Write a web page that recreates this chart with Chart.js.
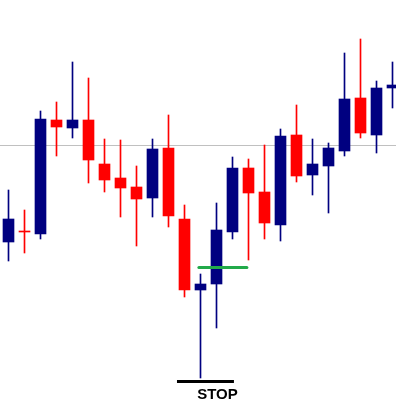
<!DOCTYPE html>
<html>
<head>
<meta charset="utf-8">
<script src="https://cdn.jsdelivr.net/npm/chart.js@4/dist/chart.umd.min.js"></script>
<style>
  html, body { margin: 0; padding: 0; background: #fff; }
  #chartContainer { width: 396px; height: 417px; position: relative; }
</style>
</head>
<body>
<div id="chartContainer"><canvas id="candleChart"></canvas></div>
<script>
// <![CDATA[

// candles, one per bar, oldest first (price in pips)
var opens  = [175, 186, 183, 297, 289, 297, 253, 239, 230, 219, 269, 198, 127, 133, 185, 249, 225, 192, 282, 242, 251, 266, 319, 282, 329];
var highs  = [227, 207, 306, 315, 355, 339, 278, 277, 251, 278, 302, 212, 143, 214, 260, 258, 272, 288, 312, 278, 274, 364, 378, 336, 355];
var lows   = [156, 164, 178, 261, 279, 234, 225, 200, 171, 200, 190, 120,  39,  89, 178, 157, 178, 176, 235, 222, 204, 261, 279, 264, 309];
var closes = [198, 185, 298, 290, 297, 257, 237, 229, 218, 268, 201, 127, 133, 187, 249, 224, 194, 281, 241, 253, 269, 318, 284, 329, 332];

// annotation levels
var resistanceLevel = 271.5;
var entryLevel = 149.5;
var entryFrom = 11.9, entryTo = 14.9;
var stopLevel = 35.5;
var stopFrom = 10.53, stopTo = 14.09;
var stopLabel = "STOP";

var upColor = "#000080";
var downColor = "#ff0000";

var candleColors = opens.map((o, i) => closes[i] >= o ? upColor : downColor);
var wickData = lows.map((l, i) => ({ x: i, y: [l, highs[i]] }));
var bodyData = opens.map((o, i) => ({ x: i, y: [o, closes[i]] }));

var stopTextPlugin = {
  id: 'stopText',
  afterDatasetsDraw: (chart) => {
    var ctx = chart.ctx;
    var xs = chart.scales.x, ys = chart.scales.y;
    var px = (xs.getPixelForValue(stopFrom) + xs.getPixelForValue(stopTo)) / 2 + 12;
    var py = ys.getPixelForValue(stopLevel) + 17;
    ctx.save();
    ctx.fillStyle = "#000";
    ctx.font = "bold 15px 'Liberation Sans', Arial, sans-serif";
    ctx.textAlign = "center";
    ctx.textBaseline = "alphabetic";
    ctx.fillText(stopLabel, px, py);
    ctx.restore();
  }
};

var candleConfig = {
  type: 'bar',
  data: {
    datasets: [
      {
        type: 'line',
        order: 3,
        data: [{ x: -2, y: resistanceLevel }, { x: 26, y: resistanceLevel }],
        borderColor: "#c0c0c0",
        borderWidth: 1,
        pointRadius: 0
      },
      {
        order: 2,
        data: wickData,
        backgroundColor: candleColors,
        borderWidth: 0,
        barThickness: 1,
        grouped: false
      },
      {
        order: 1,
        data: bodyData,
        backgroundColor: candleColors,
        borderWidth: 0,
        barThickness: 11,
        grouped: false
      },
      {
        type: 'line',
        order: 0,
        data: [{ x: entryFrom, y: entryLevel }, { x: entryTo, y: entryLevel }],
        borderColor: "#22aa4a",
        borderWidth: 3,
        borderCapStyle: 'round',
        pointRadius: 0
      },
      {
        type: 'line',
        order: 0,
        data: [{ x: stopFrom, y: stopLevel }, { x: stopTo, y: stopLevel }],
        borderColor: "#000",
        borderWidth: 3,
        pointRadius: 0
      }
    ]
  },
  options: {
    responsive: true,
    maintainAspectRatio: false,
    animation: false,
    layout: { padding: 0 },
    plugins: {
      legend: { display: false },
      tooltip: { enabled: false }
    },
    scales: {
      x: { type: 'linear', display: false, offset: false, min: -0.53125, max: 24.21875 },
      y: { type: 'linear', display: false, min: 0, max: 417 }
    }
  },
  plugins: [stopTextPlugin]
};

var ctx = document.getElementById("candleChart").getContext("2d");
var candleChart = new Chart(ctx, candleConfig);
// ]]>
</script>
</body>
</html>
